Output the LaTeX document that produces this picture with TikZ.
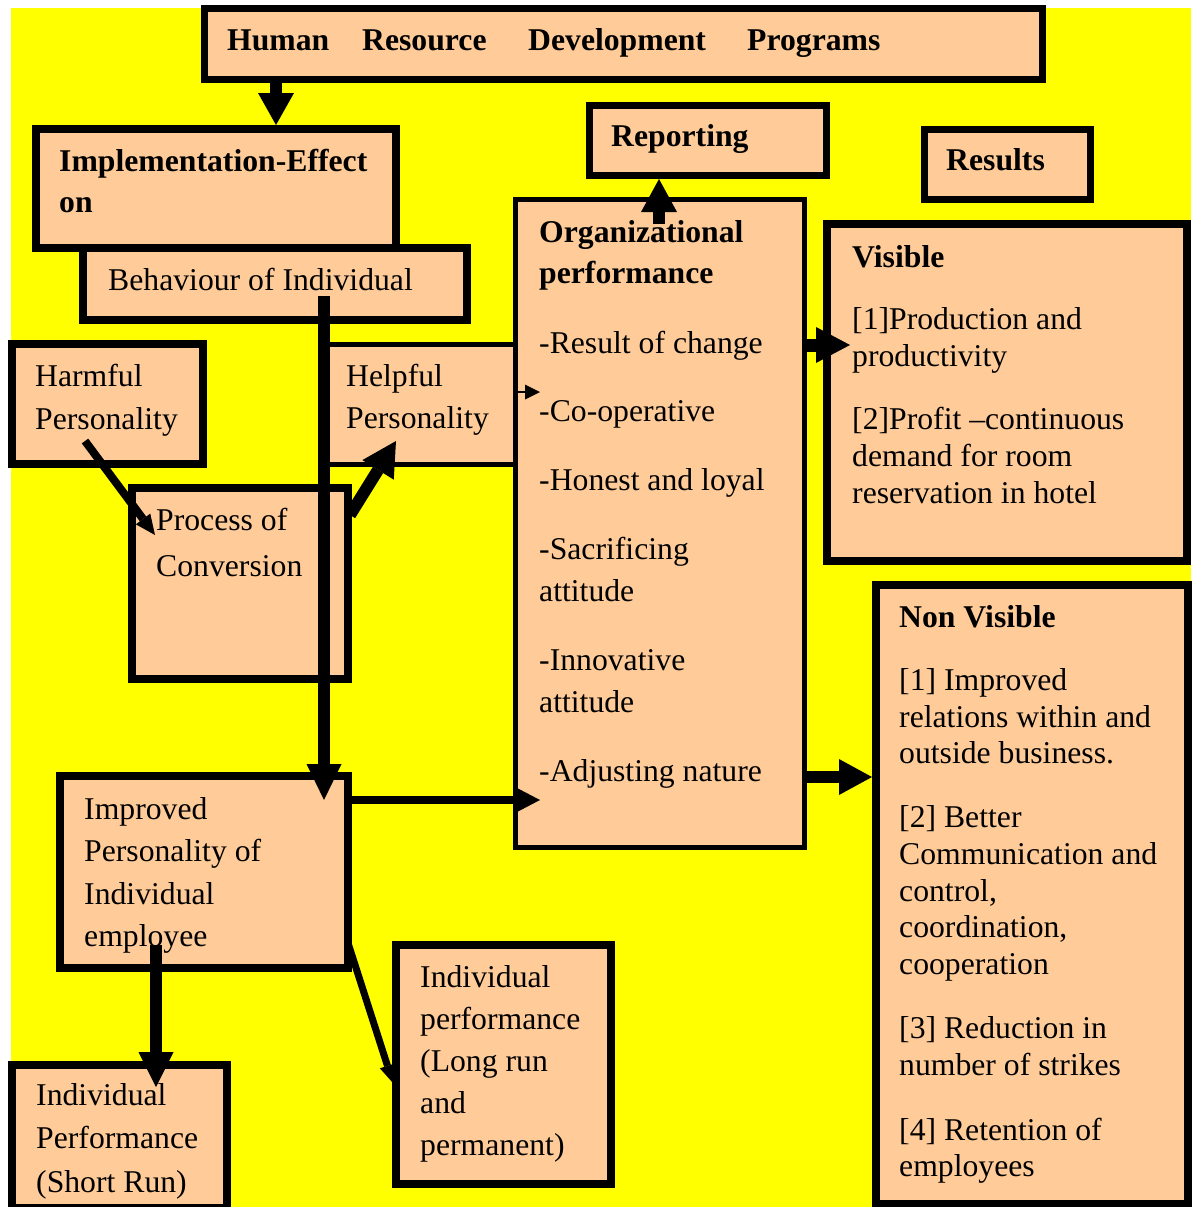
\documentclass[tikz,border=0pt]{standalone}
\usepackage{fontspec}
\setmainfont{Liberation Serif}
\usetikzlibrary{arrows.meta,calc}
\definecolor{bgyellow}{RGB}{255,255,0}
\definecolor{peach}{RGB}{255,204,153}
% left-aligned block of lines whose baseline is the first line
\newcommand{\lineblock}[1]{\begin{tabular}[t]{@{}l@{}}#1\end{tabular}}
\begin{document}
\begin{tikzpicture}[x=1pt,y=-1pt,
  panel/.style={draw=black, fill=peach, rectangle, inner sep=0pt},
  txt/.style={anchor=base west, inner sep=0pt, font={\fontsize{31.7}{42}\selectfont}},
  bold/.style={font={\fontsize{31.7}{41}\selectfont\bfseries}},
  conn/.style n args={3}{draw=black, line width=#1pt,
    -{Triangle[length=#2pt,width=#3pt,line width=0pt]}}
]
\useasboundingbox (0,0) rectangle (1191,1207);
\fill[white] (0,0) rectangle (1191,1207);
\fill[bgyellow] (11,8) rectangle (1191,1207);

% ---------- boxes ----------
\node[panel, line width=7pt, minimum width=838pt, minimum height=71pt] (hrd) at (623.5,44) {};
\node[panel, line width=8pt, minimum width=360pt, minimum height=119pt] (impl) at (216,188.5) {};
\node[panel, line width=8pt, minimum width=384pt, minimum height=72pt] (behav) at (275,284) {};
\node[panel, line width=7pt, minimum width=237pt, minimum height=70pt] (report) at (708,140.5) {};
\node[panel, line width=7pt, minimum width=166pt, minimum height=70pt] (results) at (1007.5,164.5) {};
\node[panel, line width=5pt, minimum width=195pt, minimum height=120pt] (helpful) at (418,404.5) {};
\node[panel, line width=5pt, minimum width=289pt, minimum height=648pt] (org) at (660,523.5) {};
\node[panel, line width=8pt, minimum width=360pt, minimum height=337pt] (visible) at (1007,392.5) {};
\node[panel, line width=8pt, minimum width=312pt, minimum height=619pt] (nonvis) at (1032,894.5) {};
\node[panel, line width=8pt, minimum width=191pt, minimum height=120pt] (harmful) at (107.5,404) {};
\node[panel, line width=8pt, minimum width=216pt, minimum height=191pt] (process) at (240,583.5) {};
\node[panel, line width=8pt, minimum width=288pt, minimum height=192pt] (improved) at (204,872) {};
\node[panel, line width=8pt, minimum width=215pt, minimum height=239pt] (longrun) at (503.5,1064.5) {};
\node[panel, line width=8pt, minimum width=215pt, minimum height=143pt] (shortrun) at (119.5,1136.5) {};

% ---------- texts ----------
\node[txt, bold] (hrdT) at (227,51) {\makebox[135pt][l]{Human}\makebox[166pt][l]{Resource}\makebox[219pt][l]{Development}Programs};
\node[txt, bold] (implT) at (59,171) {\lineblock{Implementation-Effect\\ on}};
\node[txt] (behavT) at (108,290) {Behaviour of Individual};
\node[txt, bold] (reportT) at (611,146) {Reporting};
\node[txt, bold] (resultsT) at (946,170) {Results};
\node[txt, font={\fontsize{31.7}{41.5}\selectfont}] (orgT) at (539,242) {\lineblock{%
  \textbf{Organizational}\\ \textbf{performance}\\[28pt]
  -Result of change\\[27.3pt]
  -Co-operative\\[27pt]
  -Honest and loyal\\[28pt]
  -Sacrificing\\ attitude\\[28pt]
  -Innovative\\ attitude\\[28pt]
  -Adjusting nature}};
\node[txt, font={\fontsize{31.7}{36.8}\selectfont}] (visibleT) at (852,267) {\lineblock{%
  \textbf{Visible}\\[25.5pt]
  {[1]}Production and\\ productivity\\[27pt]
  {[2]}Profit --continuous\\ demand for room\\ reservation in hotel}};
\node[txt, font={\fontsize{31.7}{36.6}\selectfont}] (nonvisT) at (899,627) {\lineblock{%
  \textbf{Non Visible}\\[27pt]
  {[1]} Improved\\ relations within and\\ outside business.\\[27.5pt]
  {[2]} Better\\ Communication and\\ control,\\ coordination,\\ cooperation\\[27.5pt]
  {[3]} Reduction in\\ number of strikes\\[28.5pt]
  {[4]} Retention of\\ employees}};
\node[txt, font={\fontsize{31.7}{43}\selectfont}] (harmfulT) at (35,386) {\lineblock{Harmful\\ Personality}};
\node[txt] (helpfulT) at (346,386) {\lineblock{Helpful\\ Personality}};
\node[txt, font={\fontsize{31.7}{46}\selectfont}] (processT) at (156,530) {\lineblock{Process of\\ Conversion}};
\node[txt, font={\fontsize{31.7}{42.6}\selectfont}] (improvedT) at (84,819) {\lineblock{Improved\\ Personality of\\ Individual\\ employee}};
\node[txt] (longrunT) at (420,987) {\lineblock{Individual\\ performance\\ (Long run\\ and\\ permanent)}};
\node[txt, font={\fontsize{31.7}{43.5}\selectfont}] (shortrunT) at (36,1105) {\lineblock{Individual\\ Performance\\ (Short Run)}};

% ---------- connector ends ----------
\coordinate (xHrd) at (276,0);
\coordinate (orgUp) at (659,224);
\coordinate (behavOut) at (324,296);
\coordinate (improvedIn) at (324,800);
\coordinate (harmfulOut) at (85,441);
\coordinate (processIn) at (155,535);
\coordinate (processOut) at (350,515);
\coordinate (helpfulIn) at (396,441);
\coordinate (helpfulOut) at (518,392);
\coordinate (orgInA) at (540,392);
\coordinate (orgInB) at (540,800);
\coordinate (visibleIn) at (850,345);
\coordinate (nonvisY) at (0,777);
\coordinate (shortOut) at (156,945);
\coordinate (shortIn) at (156,1087);
\coordinate (longOut) at (348,943);
\coordinate (longIn) at (393,1083);

% ---------- connectors ----------
\draw[conn={12}{32}{36}] (hrd.south -| xHrd) -- (impl.north -| xHrd);
\draw[conn={12}{33}{36}] (orgUp) -- (orgUp |- report.south);
\draw[conn={12}{36}{35}] (behavOut) -- (improvedIn);
\draw[conn={8}{20}{18}] (harmfulOut) -- (processIn);
\draw[conn={12}{34}{37}] (processOut) -- (helpfulIn);
\draw[conn={2.5}{15}{15}] (helpfulOut) -- (orgInA);
\draw[conn={8}{22}{23}] (improved.east |- orgInB) -- (orgInB);
\draw[conn={13}{34}{36}] (org.east |- visibleIn) -- (visibleIn);
\draw[conn={12}{33}{36}] (org.east |- nonvisY) -- (nonvis.west |- nonvisY);
\draw[conn={12}{35}{35}] (shortOut) -- (shortIn);
\draw[conn={7}{18}{16}] (longOut) -- (longIn);
\end{tikzpicture}
\end{document}
